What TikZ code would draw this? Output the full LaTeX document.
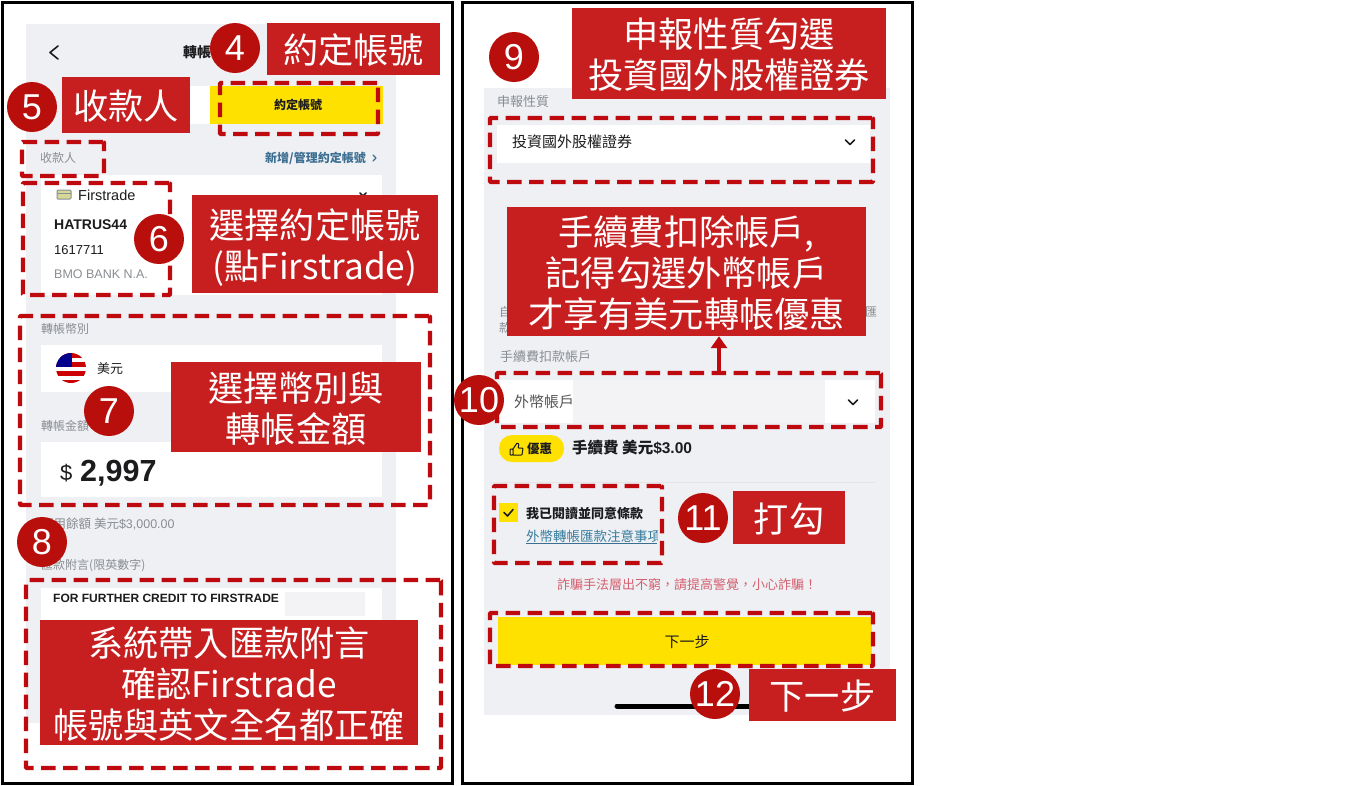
\documentclass[tikz,border=0pt]{standalone}
\usepackage{fontspec}
\setmainfont{Noto Sans CJK TC}
\newfontfamily\lat{Liberation Sans}
\usetikzlibrary{arrows.meta}
\definecolor{panelgray}{HTML}{EEF0F4}
\definecolor{notered}{HTML}{C71E1F}
\definecolor{badgered}{HTML}{B90F0C}
\definecolor{dashred}{HTML}{BE0A0E}
\definecolor{uiyellow}{HTML}{FFE100}
\definecolor{uigray}{HTML}{8A8D92}
\definecolor{uilink}{HTML}{3D6F92}
\definecolor{uiink}{HTML}{1C1C1E}
\definecolor{warnred}{HTML}{D4616F}
\definecolor{stripgray}{HTML}{F3F3F5}
\definecolor{cardband}{HTML}{D6D89A}
\tikzset{
  x=1pt,y=-1pt,
  frame/.style={draw=black,line width=3pt,fill=white},
  panel/.style={fill=panelgray},
  card/.style={fill=white},
  notebox/.style={fill=notered,text=white,align=center,inner sep=0pt,text depth=0pt,
    font=\fontsize{35.2}{41}\selectfont},
  badge/.style={circle,fill=badgered,text=white,inner sep=0pt,minimum size=50pt,
    font=\fontsize{36}{36}\selectfont\lat},
  areabox/.style={draw=dashred,line width=4.3pt,dash pattern=on 14.5pt off 7.5pt,inner sep=0pt,rounded corners=1pt},
  uitext/.style={anchor=west,inner sep=0pt,text=uiink,font=\fontsize{#1}{#1}\selectfont},
  graytext/.style={anchor=west,inner sep=0pt,text=uigray,font=\fontsize{#1}{#1}\selectfont},
  chev/.style={draw=uiink,line width=1.6pt,line cap=round,line join=round},
  callout/.style={draw=dashred,line width=3.5pt,-{Triangle[length=12pt,width=16pt]}}
}
\newcommand{\boxnode}[7][notebox]{%
  \pgfmathsetmacro{\bw}{#5-#3}\pgfmathsetmacro{\bh}{#6-#4}%
  \pgfmathsetmacro{\bx}{(#5+#3)/2}\pgfmathsetmacro{\by}{(#6+#4)/2}%
  \node[#1,minimum width=\bw pt,minimum height=\bh pt] (#2) at (\bx,\by) {#7};}
\newcommand{\areanode}[5]{\boxnode[areabox]{#1}{#2}{#3}{#4}{#5}{}}
\begin{document}
\begin{tikzpicture}
\useasboundingbox (0,0) rectangle (1370,785);
\fill[white] (0,0) rectangle (1370,785);
% frames
\draw[frame] (2,2) rectangle (452,783);
\draw[frame] (462,2) rectangle (912,783);

% ---------- left screen
\fill[panel] (26,24) rectangle (396,723);
\draw[chev,line width=1.6pt] (58,46) -- (50,52.5) -- (58,59);
\node[uitext=14] (ltitle) at (183,52) {\bfseries 轉帳};
\fill[white] (190,86) rectangle (212,124);
\fill[uiyellow] (210,86) rectangle (383,124);
\node[uitext=12,anchor=center] (ltab) at (298,105) {\bfseries 約定帳號};
\node[graytext=12] (lpayee) at (40,158) {收款人};
\node[uitext=12,text=uilink] (lmanage) at (265,158) {\bfseries 新增/管理約定帳號};
\draw[chev,draw=uilink,line width=1.3pt] (373,155) -- (376,158) -- (373,161);
\fill[card] (41,175) rectangle (382,295);
\draw[draw=uigray,fill=cardband,rounded corners=1pt,line width=1pt] (57,190) rectangle (71,199);
\draw[draw=uigray,line width=1pt] (57,193) -- (71,193);
\node[uitext=14.5] (lfirst) at (78,195) {\lat Firstrade};
\node[uitext=14] (lswift) at (54,225) {\lat\bfseries HATRUS44};
\node[uitext=13] (lacct) at (54,250) {\lat 1617711};
\node[graytext=12.5] (lbank) at (54,274) {\lat BMO BANK N.A.};
\draw[chev] (360,193) -- (363,196) -- (366,193);

\node[graytext=12] (lcurr) at (41,329) {轉帳幣別};
\fill[card] (41,345) rectangle (382,392);
\begin{scope}
  \clip (71,368) circle (15);
  \fill[white] (56,353) rectangle (86,383);
  \fill[red!80!black] (56,353) rectangle (86,357.5);
  \fill[red!80!black] (56,362) rectangle (86,366.5);
  \fill[red!80!black] (56,371) rectangle (86,375.5);
  \fill[red!80!black] (56,379.5) rectangle (86,383);
  \fill[blue!55!black] (56,353) rectangle (72,367);
\end{scope}
\node[uitext=13] (lusd) at (97,369) {美元};
\node[graytext=12] (lamt) at (41,426) {轉帳金額};
\fill[card] (41,442) rectangle (382,497);
\node[uitext=22] (ldollar) at (60,473) {\lat\$};
\node[uitext=30.5] (lvalue) at (80,473) {\lat\bfseries 2,997};
\node[graytext=12.5] (lbal) at (41,524) {可用餘額 美元\lat\$3,000.00};
\node[graytext=12] (lmemo) at (41,566) {匯款附言(限英數字)};
\fill[card] (41,588) rectangle (382,620);
\fill[stripgray] (285,592) rectangle (365,616);
\node[uitext=12] (lfurther) at (53,598) {\lat\bfseries FOR FURTHER CREDIT TO FIRSTRADE};

% ---------- right screen
\fill[panel] (484,88) rectangle (890,715);
\node[graytext=13] (rtype) at (497,102) {申報性質};
\fill[card] (497,125) rectangle (870,163);
\node[uitext=15] (rtypeval) at (512,142) {投資國外股權證券};
\draw[chev] (845.5,140) -- (850,144.5) -- (854.5,140);
\node[graytext=12] (rfrag1) at (499,312) {自};
\node[graytext=12] (rfrag2) at (499,328) {款};
\node[graytext=12] (rfrag3) at (865,312) {匯};
\node[graytext=13] (rfee) at (500,357) {手續費扣款帳戶};
\fill[card] (500,380) rectangle (875,423);
\fill[stripgray] (573,380) rectangle (825,423);
\node[uitext=15,text=uiink!75] (rfx) at (514,402) {外幣帳戶};
\draw[chev] (848.5,400) -- (853,404.5) -- (857.5,400);
\fill[uiyellow,rounded corners=13pt] (499,435) rectangle (564,462);
\draw[uiink,line width=1pt,rounded corners=0.8pt] (510,449) -- (513,449) -- (513,455) -- (510,455) -- cycle (513,449) -- (517,443) -- (519,444) -- (518,448) -- (523,448) -- (522,455) -- (513,455);
\node[uitext=12.5] (rdeal) at (527,449) {\bfseries 優惠};
\node[uitext=15.5] (rcost) at (572,448) {\bfseries 手續費 美元\lat\$3.00};
\draw[draw=black!10,line width=1pt] (490,482) -- (875,482);
\fill[uiyellow] (499,503) rectangle (518,522);
\draw[chev,line width=1.6pt] (504,512.5) -- (507.5,516) -- (513,509.5);
\node[uitext=13] (ragree) at (526,513) {\bfseries 我已閱讀並同意條款};
\begin{scope}
  \clip (520,525) rectangle (657,548);
  \node[uitext=13.5,text=uilink!90!cyan] (rlink) at (526,536) {外幣轉帳匯款注意事項};
  \draw[uilink,line width=0.8pt] (526,543.5) -- (657,543.5);
\end{scope}
\node[uitext=13,anchor=center,text=warnred] (rwarn) at (687,585) {詐騙手法層出不窮^^^^ff0c請提高警覺^^^^ff0c小心詐騙^^^^ff01};
\fill[uiyellow] (498,617) rectangle (872,665);
\node[uitext=15,anchor=center] (rnext) at (687,642) {下一步};
\draw[black,line width=5pt,line cap=round] (617,706) -- (770,706);

% ---------- dashed areas
\areanode{d4}{220}{83}{378}{134}
\areanode{d5}{22}{142}{104}{176}
\areanode{d6}{23}{183}{170}{295}
\areanode{d7}{20}{316}{430}{505}
\areanode{d8}{26}{580}{441}{768}
\areanode{d9}{490}{118}{873}{182}
\areanode{d10}{497}{373}{881}{427}
\areanode{d11}{494}{486}{662}{563}
\areanode{d12}{490}{613}{873}{666}

% ---------- notes
\boxnode{n4}{267}{23}{440}{75}{約定帳號}
\boxnode{n5}{62}{77}{190}{133}{收款人}
\boxnode{n6}{192}{195}{438}{293}{選擇約定帳號\\(點Firstrade)}
\boxnode{n7}{171}{362}{421}{452}{選擇幣別與\\轉帳金額}
\boxnode{n8}{40}{620}{418}{745}{系統帶入匯款附言\\確認Firstrade\\帳號與英文全名都正確}
\boxnode{n9}{572}{8}{886}{99}{申報性質勾選\\投資國外股權證券}
\boxnode{n10}{507}{207}{866}{336}{手續費扣除帳戶,\\記得勾選外幣帳戶\\才享有美元轉帳優惠}
\boxnode{n11}{733}{491}{845}{544}{打勾}
\boxnode{n12}{749}{669}{896}{721}{下一步}

% ---------- callout
\coordinate (a10) at (719,375);
\draw[callout] (a10) -- (a10 |- n10.south);

% ---------- badges
\node[badge] (b4) at (235,48) {4};
\node[badge] (b5) at (32,107) {5};
\node[badge] (b6) at (159,239) {6};
\node[badge] (b7) at (109,411) {7};
\node[badge] (b8) at (42,542) {8};
\node[badge] (b9) at (514,57) {9};
\node[badge] (b10) at (479,400) {10};
\node[badge] (b11) at (703,518) {11};
\node[badge] (b12) at (715,694) {12};
\end{tikzpicture}
\end{document}
